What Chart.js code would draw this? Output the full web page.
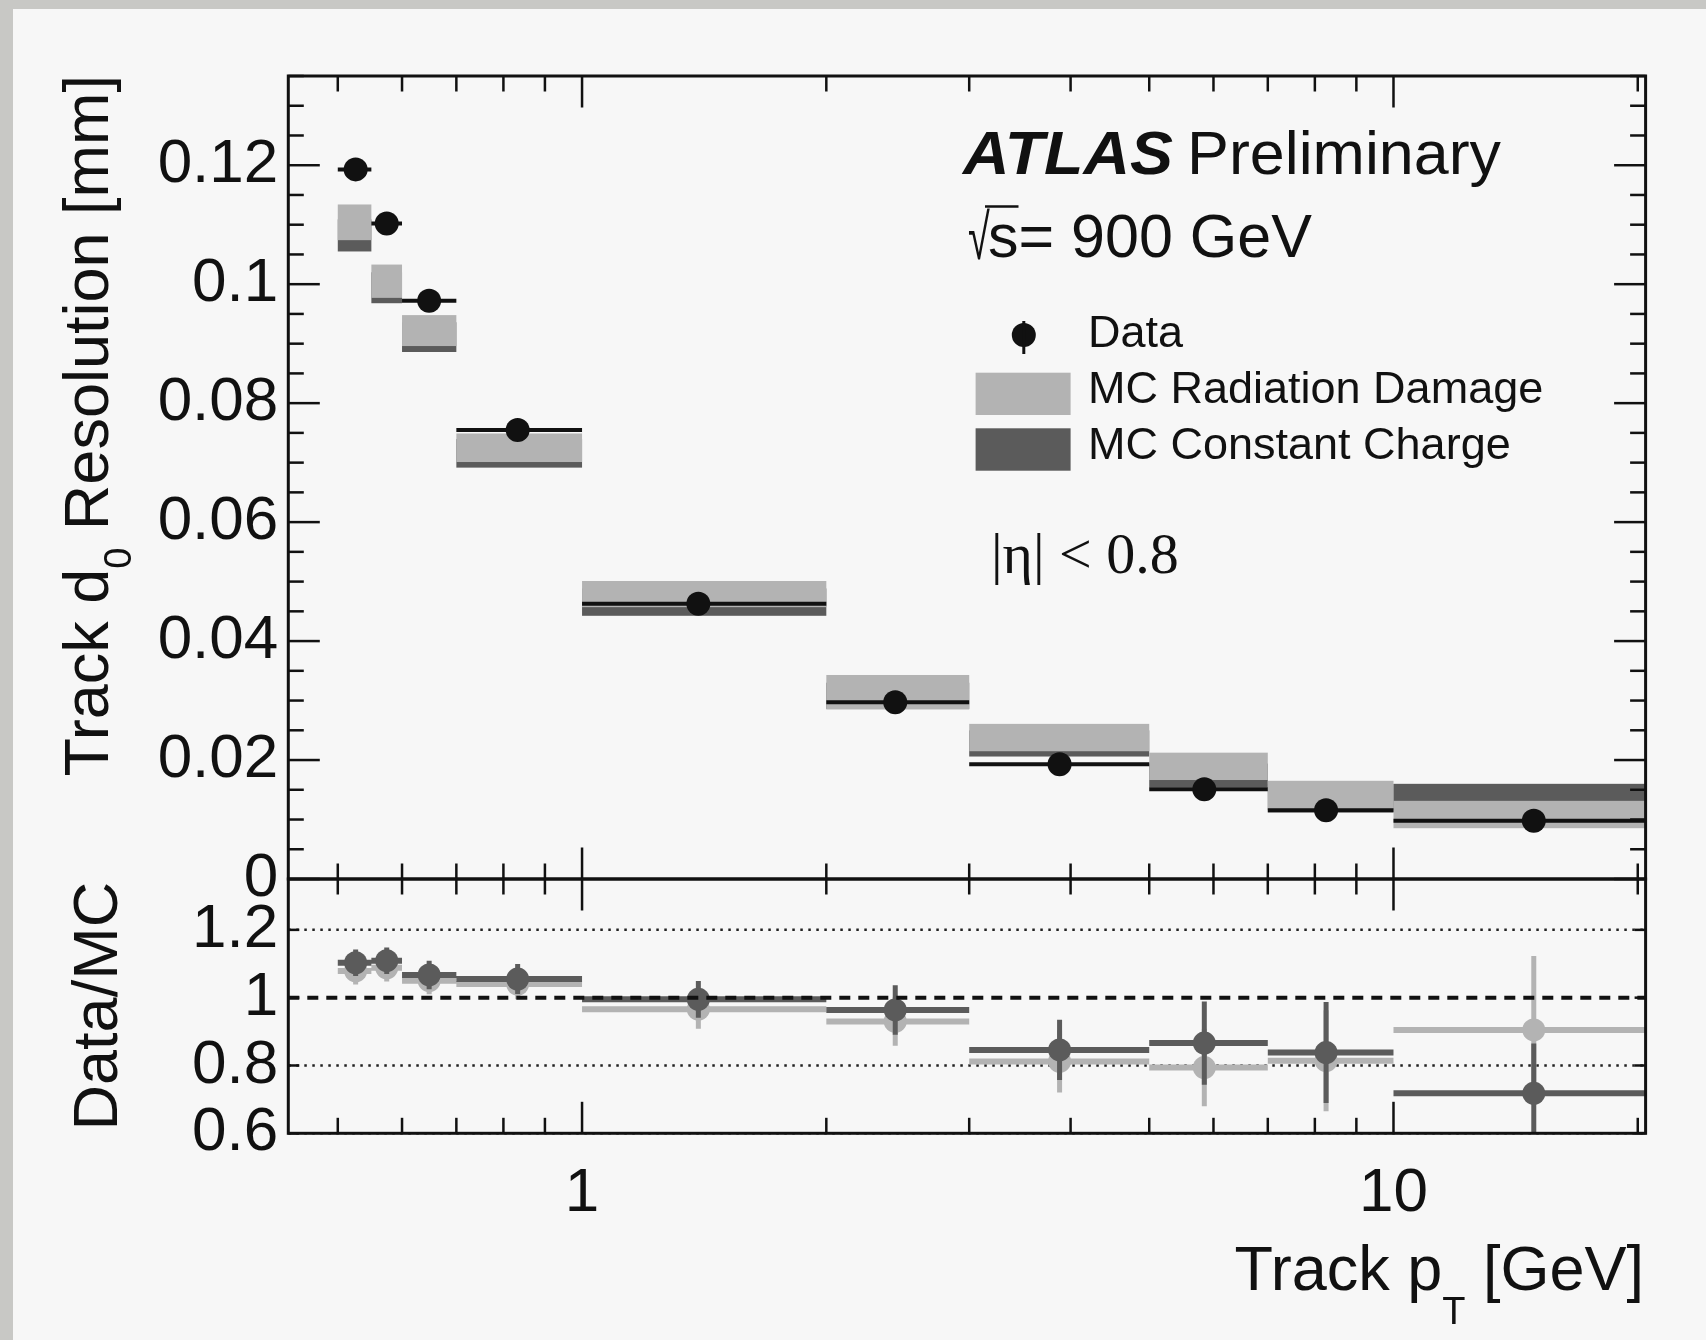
<!DOCTYPE html>
<html><head><meta charset="utf-8">
<script src="https://cdn.jsdelivr.net/npm/chart.js@4.4.1/dist/chart.umd.min.js"></script>
<style>
html,body{margin:0;padding:0;}
body{width:1706px;height:1340px;position:relative;overflow:hidden;background:#c8c8c5;}
#panel{position:absolute;left:13px;top:9px;right:0;bottom:0;background:#f7f7f7;}
canvas{position:absolute;left:0;top:0;}
</style></head><body>
<div id="panel"></div>
<canvas id="main" width="1706" height="1340"></canvas>
<canvas id="ratio" width="1706" height="1340"></canvas>
<script>
// ---------------- data ----------------
const binLo = [0.5, 0.55, 0.6, 0.7, 1, 2, 3, 5, 7, 10];
const binHi = [0.55, 0.6, 0.7, 1, 2, 3, 5, 7, 10, 20.45];
const dataPt = [0.526, 0.5745, 0.648, 0.833, 1.391, 2.432, 3.877, 5.846, 8.259, 14.89];
const dataRes = [0.1193, 0.1102, 0.0972, 0.0755, 0.04627, 0.0297, 0.01928, 0.01507, 0.01155, 0.0098];
const dataResErr = [0.0005, 0.0005, 0.0004, 0.0004, 0.0003, 0.0003, 0.0003, 0.0003, 0.0003, 0.0003];
const mcRad = [0.1104, 0.1005, 0.0922, 0.0725, 0.0479, 0.0314, 0.02378, 0.01894, 0.01381, 0.01084];
const mcRadErr = [0.0030, 0.0028, 0.0026, 0.0024, 0.0022, 0.0029, 0.0023, 0.0023, 0.0027, 0.0023];
const mcCC = [0.1082, 0.0994, 0.0911, 0.07156, 0.04655, 0.0308, 0.02279, 0.0174, 0.01378, 0.0136];
const mcCCErr = [0.0027, 0.0026, 0.0025, 0.0024, 0.0023, 0.0022, 0.0022, 0.0020, 0.0022, 0.0024];
const ratioRad = [1.079, 1.088, 1.05, 1.04, 0.966, 0.93, 0.812, 0.794, 0.814, 0.905];
const ratioRadErr = [0.04, 0.04, 0.04, 0.045, 0.058, 0.072, 0.092, 0.114, 0.149, 0.218];
const ratioCC = [1.103, 1.109, 1.067, 1.055, 0.995, 0.964, 0.846, 0.866, 0.838, 0.718];
const ratioCCErr = [0.039, 0.039, 0.042, 0.044, 0.054, 0.073, 0.089, 0.123, 0.149, 0.147];

const seriesLabels = ['Data', 'MC Radiation Damage', 'MC Constant Charge'];
const mainYTicks = [0, 0.02, 0.04, 0.06, 0.08, 0.1, 0.12];
const ratioYTicks = [0.6, 0.8, 1, 1.2];
const xLabelTicks = [1, 10];
const xMinorTicks = [0.5, 0.6, 0.7, 0.8, 0.9, 2, 3, 4, 5, 6, 7, 8, 9, 20];
const xMajorTicks = [1, 10];
const ratioRefDotted = [0.6, 0.8, 1.2];
const ratioRefDashed = 1;

const mainYTitle = ['Track d', '0', ' Resolution [mm]'];
const ratioYTitle = 'Data/MC';
const xTitle = ['Track p', 'T', ' [GeV]'];
const atlasLabel = ['ATLAS', 'Preliminary'];
const energyLabel = ['s', '= 900 GeV'];
const etaLabel = '|\u03b7| < 0.8';

// ---------------- style / layout ----------------
const FONT = '"Liberation Sans", Arial, Helvetica, sans-serif';
const SERIF = '"Liberation Serif", "Times New Roman", serif';
const BLACK = '#111111', LIGHT = '#b3b3b3', DARK = '#5b5b5b';
const X_MIN = 0.4345, X_MAX = 20.45;
const AREA = {left: 288.3, right: 1645.6, top: 76, split: 879, bottom: 1133.3};
const W = 1706, H = 1340;

const fmt = v => String(Math.round(v * 1000) / 1000);

function hSegs(lo, hi, y) {
  const out = [];
  for (let i = 0; i < y.length; i++) out.push({x: lo[i], y: y[i]}, {x: hi[i], y: y[i]}, {x: hi[i], y: null});
  return out;
}
function vSegs(x, y, e) {
  const out = [];
  for (let i = 0; i < y.length; i++) out.push({x: x[i], y: y[i] - e[i]}, {x: x[i], y: y[i] + e[i]}, {x: x[i], y: null});
  return out;
}
function pts(x, y) { return x.map((v, i) => ({x: v, y: y[i]})); }
function lineDs(data, color, width) {
  return {data, showLine: true, borderColor: color, borderWidth: width, pointRadius: 0, pointHitRadius: 0,
          fill: false, tension: 0, spanGaps: false, clip: 0, borderCapStyle: 'butt'};
}
function markerDs(label, data, color, r) {
  return {label, data, showLine: false, pointRadius: r, pointBackgroundColor: color, pointBorderWidth: 0,
          pointBorderColor: color, pointHoverRadius: r, clip: 0};
}

function xScale(show) {
  return {
    type: 'logarithmic', min: X_MIN, max: X_MAX, bounds: 'data', display: show,
    afterBuildTicks: s => { s.ticks = xLabelTicks.map(v => ({value: v})); },
    ticks: {callback: v => String(v), font: {family: FONT, size: 62}, color: BLACK, padding: 23,
            maxRotation: 0, minRotation: 0, autoSkip: false},
    grid: {display: false, drawTicks: false, tickLength: 0},
    border: {display: false},
    afterFit: s => { s.height = show ? H - AREA.bottom : 0; }
  };
}
function yScale(min, max, tickVals) {
  return {
    type: 'linear', min, max, bounds: 'data',
    afterBuildTicks: s => { s.ticks = tickVals.map(v => ({value: v})); },
    ticks: {callback: v => fmt(v), font: {family: FONT, size: 62}, color: BLACK, padding: 10, autoSkip: false},
    grid: {display: false, drawTicks: false, tickLength: 0},
    border: {display: false},
    afterFit: s => { s.width = AREA.left; }
  };
}

function line(ctx, x1, y1, x2, y2) { ctx.beginPath(); ctx.moveTo(x1, y1); ctx.lineTo(x2, y2); ctx.stroke(); }

function drawXTicks(ctx, chart) {
  const xs = chart.scales.x, a = chart.chartArea;
  ctx.strokeStyle = BLACK; ctx.lineWidth = 2.5; ctx.setLineDash([]);
  xMinorTicks.forEach(v => { const p = xs.getPixelForValue(v); line(ctx, p, a.top, p, a.top + 15.5); line(ctx, p, a.bottom, p, a.bottom - 15.5); });
  xMajorTicks.forEach(v => { const p = xs.getPixelForValue(v); line(ctx, p, a.top, p, a.top + 31.5); line(ctx, p, a.bottom, p, a.bottom - 31.5); });
}
function drawFrame(ctx, chart) {
  const a = chart.chartArea;
  ctx.strokeStyle = BLACK; ctx.lineWidth = 3; ctx.setLineDash([]);
  ctx.strokeRect(a.left, a.top, a.right - a.left, a.bottom - a.top);
}

function drawSubText(ctx, pieces, xEnd, base, size, subSize, subShift) {
  ctx.font = `${size}px ${FONT}`; const w1 = ctx.measureText(pieces[0]).width;
  const w3 = ctx.measureText(pieces[2]).width;
  ctx.font = `${subSize}px ${FONT}`; const w2 = ctx.measureText(pieces[1]).width;
  let x = xEnd - (w1 + w2 + w3);
  ctx.textAlign = 'left'; ctx.textBaseline = 'alphabetic';
  ctx.font = `${size}px ${FONT}`; ctx.fillText(pieces[0], x, base); x += w1;
  ctx.font = `${subSize}px ${FONT}`; ctx.fillText(pieces[1], x, base + subShift); x += w2;
  ctx.font = `${size}px ${FONT}`; ctx.fillText(pieces[2], x, base);
}

// ---------------- main panel ----------------
const mainPlugin = {
  id: 'mainDeco',
  beforeDatasetsDraw(chart) {
    const ctx = chart.ctx, xs = chart.scales.x, ys = chart.scales.y, a = chart.chartArea;
    ctx.save();
    ctx.beginPath(); ctx.rect(a.left, a.top, a.right - a.left, a.bottom - a.top); ctx.clip();
    const box = (vals, errs, color) => {
      ctx.fillStyle = color;
      vals.forEach((v, i) => {
        const x1 = xs.getPixelForValue(binLo[i]), x2 = xs.getPixelForValue(binHi[i]);
        const y1 = ys.getPixelForValue(v + errs[i]), y2 = ys.getPixelForValue(v - errs[i]);
        ctx.fillRect(x1, y1, x2 - x1, y2 - y1);
      });
    };
    box(mcCC, mcCCErr, DARK);
    box(mcRad, mcRadErr, LIGHT);
    ctx.restore();
  },
  afterDatasetsDraw(chart) {
    const ctx = chart.ctx, ys = chart.scales.y, a = chart.chartArea;
    ctx.save();
    drawXTicks(ctx, chart);
    for (let i = 0; i <= 27; i++) {
      const v = i * 0.005, p = ys.getPixelForValue(v), len = (i % 4 === 0) ? 31.5 : 15.5;
      line(ctx, a.left, p, a.left + len, p); line(ctx, a.right, p, a.right - len, p);
    }
    drawFrame(ctx, chart);
    ctx.restore();
  },
  afterDraw(chart) {
    const ctx = chart.ctx;
    ctx.save();
    ctx.fillStyle = BLACK; ctx.textBaseline = 'alphabetic'; ctx.textAlign = 'left';
    // ATLAS Preliminary
    ctx.font = `italic bold 61px ${FONT}`;
    const aw = ctx.measureText(atlasLabel[0]).width;
    ctx.save(); ctx.translate(963, 174); ctx.scale(210 / aw, 1); ctx.fillText(atlasLabel[0], 0, 0); ctx.restore();
    ctx.font = `61px ${FONT}`;
    const pw = ctx.measureText(atlasLabel[1]).width;
    ctx.save(); ctx.translate(1187, 174); ctx.scale(314 / pw, 1); ctx.fillText(atlasLabel[1], 0, 0); ctx.restore();
    // sqrt(s) = 900 GeV
    ctx.save(); ctx.translate(968, 257); ctx.scale(0.62, 1.0);
    ctx.font = `64px ${FONT}`; ctx.fillText('\u221a', 0, 2); ctx.restore();
    ctx.font = `61px ${FONT}`; ctx.fillText(energyLabel[0], 988, 257);
    const sw = ctx.measureText(energyLabel[0]).width;
    ctx.fillText(energyLabel[1], 988 + sw, 257);
    ctx.strokeStyle = BLACK; ctx.lineWidth = 2.5; line(ctx, 985, 206.5, 988 + sw, 206.5);
    // legend
    ctx.fillStyle = BLACK; ctx.beginPath(); ctx.arc(1023.8, 335, 12, 0, Math.PI * 2); ctx.fill();
    ctx.lineWidth = 3; line(ctx, 1023.8, 321, 1023.8, 354);
    ctx.fillStyle = LIGHT; ctx.fillRect(975.6, 372.7, 95, 42.3);
    ctx.fillStyle = DARK; ctx.fillRect(975.6, 428.3, 95, 42.4);
    ctx.fillStyle = BLACK; ctx.font = `45px ${FONT}`;
    ctx.fillText(seriesLabels[0], 1088, 347.3);
    ctx.fillText(seriesLabels[1], 1088, 403.3);
    ctx.fillText(seriesLabels[2], 1088, 459.3);
    // eta
    ctx.font = `58px ${SERIF}`; ctx.fillText(etaLabel, 991, 573);
    // Y title (rotated)
    ctx.save(); ctx.translate(108.3, 75); ctx.rotate(-Math.PI / 2);
    drawSubText(ctx, mainYTitle, 0, 0, 63, 38, 23);
    ctx.restore();
    ctx.restore();
  }
};

new Chart(document.getElementById('main'), {
  type: 'scatter',
  data: {datasets: [
    markerDs(seriesLabels[0], pts(dataPt, dataRes), BLACK, 12),
    lineDs(hSegs(binLo, binHi, dataRes), BLACK, 4),
    lineDs(vSegs(dataPt, dataRes, dataResErr), BLACK, 3)
  ]},
  options: {
    responsive: false, animation: false, devicePixelRatio: 1, events: [],
    layout: {padding: {left: 0, top: AREA.top, right: W - AREA.right, bottom: H - AREA.split}},
    plugins: {legend: {display: false}, tooltip: {enabled: false}},
    scales: {x: xScale(false), y: yScale(0, 0.135, mainYTicks)}
  },
  plugins: [mainPlugin]
});

// ---------------- ratio panel ----------------
const ratioPlugin = {
  id: 'ratioDeco',
  beforeDatasetsDraw(chart) {
    const ctx = chart.ctx, ys = chart.scales.y, a = chart.chartArea;
    ctx.save();
    ctx.strokeStyle = '#222'; ctx.lineWidth = 2.5; ctx.setLineDash([2.5, 5.5]);
    ratioRefDotted.forEach(v => { const p = Math.min(ys.getPixelForValue(v), a.bottom + 1); line(ctx, a.left, p, a.right, p); });
    ctx.restore();
  },
  afterDatasetsDraw(chart) {
    const ctx = chart.ctx, ys = chart.scales.y, a = chart.chartArea;
    ctx.save();
    ctx.strokeStyle = BLACK; ctx.lineWidth = 4; ctx.setLineDash([11, 8]);
    const p1 = ys.getPixelForValue(ratioRefDashed); line(ctx, a.left, p1, a.right, p1);
    ctx.setLineDash([]);
    drawXTicks(ctx, chart);
    ctx.lineWidth = 2.5;
    ratioYTicks.forEach(v => { const p = ys.getPixelForValue(v); line(ctx, a.left, p, a.left + 11, p); line(ctx, a.right, p, a.right - 11, p); });
    drawFrame(ctx, chart);
    ctx.restore();
  },
  afterDraw(chart) {
    const ctx = chart.ctx, a = chart.chartArea;
    ctx.save();
    ctx.fillStyle = BLACK;
    ctx.save(); ctx.translate(117, (a.top + a.bottom) / 2); ctx.rotate(-Math.PI / 2);
    ctx.font = `63px ${FONT}`; ctx.textAlign = 'center'; ctx.textBaseline = 'alphabetic';
    ctx.fillText(ratioYTitle, 0, 0);
    ctx.restore();
    drawSubText(ctx, xTitle, 1644, 1290, 63, 38, 34);
    ctx.restore();
  }
};

new Chart(document.getElementById('ratio'), {
  type: 'scatter',
  data: {datasets: [
    markerDs(seriesLabels[2], pts(dataPt, ratioCC), DARK, 11.5),
    lineDs(hSegs(binLo, binHi, ratioCC), DARK, 6),
    lineDs(vSegs(dataPt, ratioCC, ratioCCErr), DARK, 5),
    markerDs(seriesLabels[1], pts(dataPt, ratioRad), LIGHT, 11.5),
    lineDs(hSegs(binLo, binHi, ratioRad), LIGHT, 6),
    lineDs(vSegs(dataPt, ratioRad, ratioRadErr), LIGHT, 5)
  ]},
  options: {
    responsive: false, animation: false, devicePixelRatio: 1, events: [],
    layout: {padding: {left: 0, top: AREA.split, right: W - AREA.right, bottom: 0}},
    plugins: {legend: {display: false}, tooltip: {enabled: false}},
    scales: {x: xScale(true), y: yScale(0.6, 1.35, ratioYTicks)}
  },
  plugins: [ratioPlugin]
});
</script></body></html>
